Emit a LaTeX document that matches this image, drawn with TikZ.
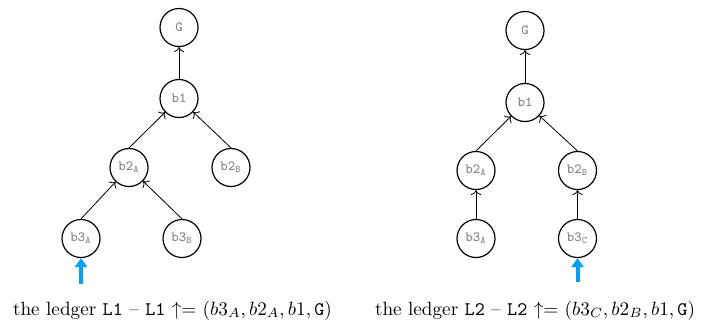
\documentclass[tikz,border=0pt]{standalone}
\usepackage{amsmath}
\usetikzlibrary{arrows.meta}

\definecolor{headblue}{RGB}{0,160,255}

\tikzset{
  blk/.style={draw, circle, semithick, minimum size=19pt, inner sep=0pt,
    text=gray, font=\ttfamily\scriptsize},
  lnk/.style={->},
  head/.style={headblue, line width=2pt, -{Triangle[length=4.5pt, width=6pt]}},
  captxt/.style={anchor=base, scale=0.96},
}

\begin{document}
\begin{tikzpicture}[x=0.5pt, y=-0.5pt]
\useasboundingbox (0, 0) rectangle (704, 322);

\begin{scope}[]
\node[blk] (G)   at (179, 27.5)  {G};
\node[blk] (b1)  at (179, 98.5)  {b1};
\node[blk] (b2A) at (129, 167.5) {b2$_{\texttt{A}}$};
\node[blk] (b2B) at (231, 167.5) {b2$_{\texttt{B}}$};
\node[blk] (b3A) at (81, 238.5)  {b3$_{\texttt{A}}$};
\node[blk] (b3B) at (182, 238.5) {b3$_{\texttt{B}}$};
\draw[lnk] (b1) -- (G);
\draw[lnk] (b2A.north) -- (b1);
\draw[lnk] (b2B.north) -- (b1);
\draw[lnk] (b3A.north) -- (b2A);
\draw[lnk] (b3B.north) -- (b2A);
\coordinate (tipA) at (81, 284);
\draw[head] (tipA) -- (b3A);
\node[captxt] (capA) at (172.5, 315) {the ledger \texttt{L1} -- \texttt{L1} $\uparrow=$\ $(b3_A, b2_A, b1, \texttt{G})$};
\end{scope}


\begin{scope}[]
\node[blk] (G')   at (525, 30.5)  {G};
\node[blk] (b1')  at (525, 102.5) {b1};
\node[blk] (b2A') at (476, 170.5) {b2$_{\texttt{A}}$};
\node[blk] (b2B') at (577.5, 170.5) {b2$_{\texttt{B}}$};
\node[blk] (b3A') at (476, 238.5) {b3$_{\texttt{A}}$};
\node[blk] (b3C') at (577.5, 238.5) {b3$_{\texttt{C}}$};
\draw[lnk] (b1') -- (G');
\draw[lnk] (b2A'.north) -- (b1');
\draw[lnk] (b2B'.north) -- (b1');
\draw[lnk] (b3A') -- (b2A');
\draw[lnk] (b3C') -- (b2B');
\coordinate (tipC) at (577.5, 282);
\draw[head] (tipC) -- (b3C');
\node[captxt] (capB) at (535, 315) {the ledger \texttt{L2} -- \texttt{L2} $\uparrow=$\ $(b3_C, b2_B, b1, \texttt{G})$};
\end{scope}
\end{tikzpicture}
\end{document}
